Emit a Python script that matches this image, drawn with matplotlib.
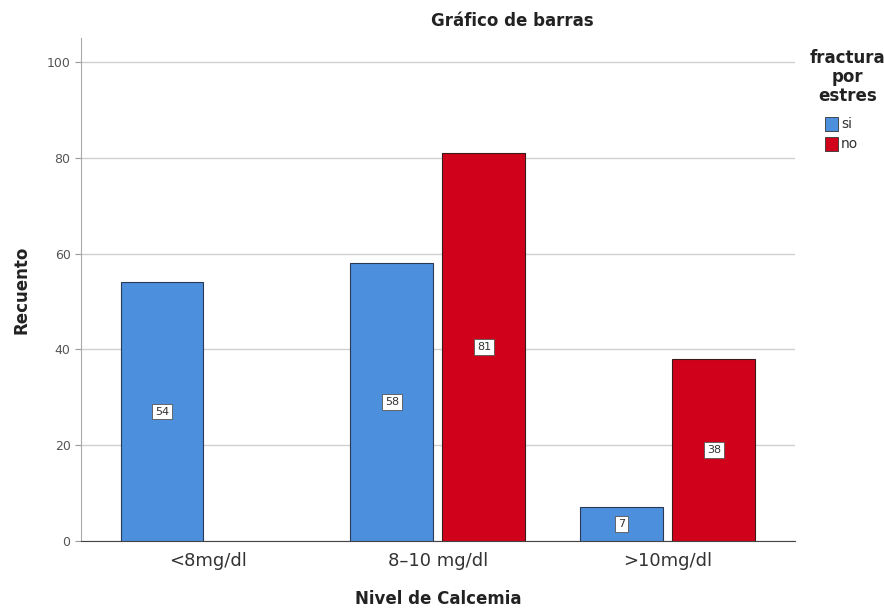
import matplotlib.pyplot as plt
import numpy as np
from matplotlib.patches import Rectangle

categorias = ['<8mg/dl', '8\u201310 mg/dl', '>10mg/dl']
si = [54, 58, 7]
no = [None, 81, 38]
color_si = '#4C8FDD'
color_no = '#D0021B'

fig = plt.figure(figsize=(8.84, 6.12), dpi=100)
ax = fig.add_axes([0.0916, 0.116, 0.8074, 0.822])

x = np.arange(len(categorias))
ancho = 0.36
off = 0.2

for i in range(len(categorias)):
    ax.bar(x[i] - off, si[i], ancho, color=color_si, edgecolor='#2a3a55', linewidth=0.8, zorder=3)
    ax.text(x[i] - off, si[i] / 2, str(si[i]), ha='center', va='center', fontsize=8, color='#333333',
            bbox=dict(boxstyle='square,pad=0.25', fc='white', ec='#555555', lw=0.6), zorder=4)
    if no[i] is not None:
        ax.bar(x[i] + off, no[i], ancho, color=color_no, edgecolor='#3a1a1a', linewidth=0.8, zorder=3)
        ax.text(x[i] + off, no[i] / 2, str(no[i]), ha='center', va='center', fontsize=8, color='#333333',
                bbox=dict(boxstyle='square,pad=0.25', fc='white', ec='#555555', lw=0.6), zorder=4)

ax.set_xlim(-0.552, 2.552)
ax.set_ylim(0, 105)
ax.set_yticks([0, 20, 40, 60, 80, 100])
ax.set_xticks(x)
ax.set_xticklabels(categorias, fontsize=13, color='#333333')
ax.tick_params(axis='y', labelsize=9, colors='#555555', length=4, color='#999999')
ax.tick_params(axis='x', length=0, pad=8)
ax.grid(axis='y', color='#d0d0d0', linewidth=1, zorder=0)
for s in ['top', 'right']:
    ax.spines[s].set_visible(False)
ax.spines['left'].set_color('#aaaaaa')
ax.spines['bottom'].set_color('#444444')

ax.set_xlabel('Nivel de Calcemia', fontsize=12, fontweight='bold', color='#222222', labelpad=14)
ax.set_ylabel('Recuento', fontsize=12, fontweight='bold', color='#222222', labelpad=12)
fig.text(0.58, 0.965, 'Gráfico de barras', ha='center', va='center', fontsize=12, fontweight='bold', color='#222222')

# leyenda
fig.text(0.959, 1 - 77 / 612, 'fractura\npor\nestres', ha='center', va='center', fontsize=12, fontweight='bold',
         color='#222222', linespacing=1.05)
for j, (lab, col) in enumerate([('si', color_si), ('no', color_no)]):
    y = 1 - (124 + j * 20) / 612
    fig.patches.append(Rectangle((825 / 884, y - 7 / 612), 13 / 884, 14 / 612, transform=fig.transFigure,
                                 facecolor=col, edgecolor='#333333', linewidth=0.6))
    fig.text(841 / 884, y, lab, ha='left', va='center', fontsize=10, color='#333333')

plt.savefig('out.png')
